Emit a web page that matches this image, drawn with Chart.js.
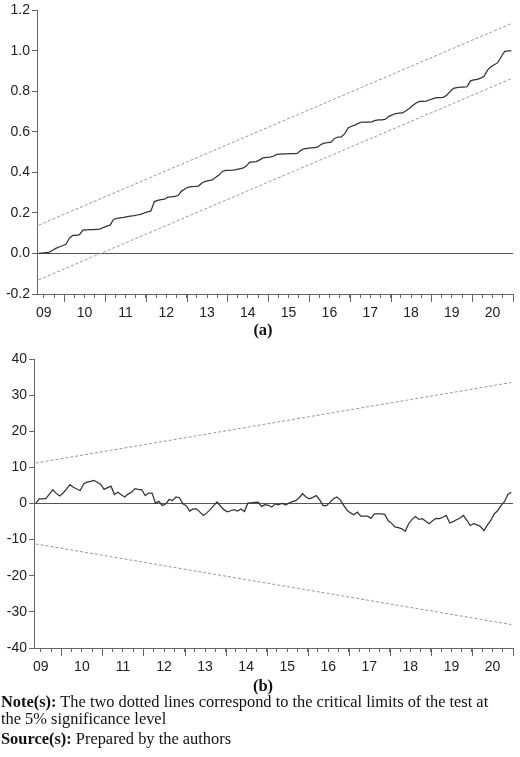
<!DOCTYPE html>
<html>
<head>
<meta charset="utf-8">
<script src="https://cdn.jsdelivr.net/npm/chart.js@4"></script>
<style>
  body { margin: 0; background: #fff; width: 520px; height: 757px; position: relative; overflow: hidden; font-family: "Liberation Serif", "Times New Roman", serif; color: #111; }
  #boxA { position: absolute; left: 0; top: 0; width: 520px; height: 322px; }
  #boxB { position: absolute; left: 0; top: 340px; width: 520px; height: 336px; }
  .cap { position: absolute; left: 0; width: 526px; text-align: center; font-weight: bold; font-size: 16.5px; line-height: 18px; }
  #note { position: absolute; left: 1px; top: 693px; width: 519px; font-size: 16.4px; line-height: 17px; }
  #note p { margin: 0 0 3px 0; }
</style>
</head>
<body>
<div id="boxA"><canvas id="cusumSqChart"></canvas></div>
<div class="cap" style="top:321px">(a)</div>
<div id="boxB"><canvas id="cusumChart"></canvas></div>
<div class="cap" style="top:677px">(b)</div>
<div id="note">
  <p><b>Note(s):</b> The two dotted lines correspond to the critical limits of the test at<br>the 5% significance level</p>
  <p><b>Source(s):</b> Prepared by the authors</p>
</div>

<script>
//------------------------------------- Data -------------------------------------
const startYear = 2009;
const startMonth = 5; // first recursive residual: May 2009, monthly to Dec 2020
const yearLabels = ['09', '10', '11', '12', '13', '14', '15', '16', '17', '18', '19', '20'];

// (a) CUSUM of squares
const cusumSq = [
  0.000, 0.002, 0.004, 0.005, 0.015, 0.025, 0.032, 0.038,
  0.045, 0.075, 0.089, 0.090, 0.093, 0.115, 0.117, 0.118, 0.118, 0.119, 0.120, 0.128,
  0.135, 0.140, 0.168, 0.173, 0.176, 0.178, 0.182, 0.185, 0.187, 0.190, 0.193, 0.200,
  0.205, 0.210, 0.255, 0.262, 0.266, 0.268, 0.278, 0.280, 0.282, 0.286, 0.308, 0.318,
  0.328, 0.330, 0.331, 0.333, 0.348, 0.356, 0.360, 0.363, 0.375, 0.387, 0.405, 0.410,
  0.410, 0.411, 0.414, 0.418, 0.421, 0.430, 0.450, 0.452, 0.454, 0.462, 0.472, 0.474,
  0.476, 0.480, 0.489, 0.491, 0.492, 0.492, 0.493, 0.493, 0.494, 0.508, 0.517, 0.519,
  0.521, 0.523, 0.525, 0.538, 0.545, 0.547, 0.550, 0.568, 0.575, 0.576, 0.590, 0.620,
  0.628, 0.634, 0.642, 0.649, 0.649, 0.649, 0.650, 0.657, 0.659, 0.660, 0.663, 0.677,
  0.684, 0.691, 0.693, 0.694, 0.705, 0.716, 0.730, 0.743, 0.751, 0.751, 0.752, 0.759,
  0.764, 0.769, 0.770, 0.771, 0.781, 0.800, 0.815, 0.819, 0.821, 0.821, 0.823, 0.852,
  0.857, 0.860, 0.866, 0.875, 0.905, 0.922, 0.932, 0.942, 0.970, 0.997, 1.000, 1.000
];
const cusumSqUpper = [0.14, 1.135];
const cusumSqLower = [-0.13, 0.863];

// (b) CUSUM
const cusum = [
  0.0, 1.3, 1.3, 1.4, 2.6, 3.8, 2.8, 2.1,
  2.9, 4.0, 5.2, 4.5, 4.0, 3.6, 5.4, 5.9, 6.1, 6.4, 5.9, 5.3,
  3.9, 4.4, 4.8, 2.5, 3.1, 2.4, 1.8, 2.6, 3.1, 4.1, 3.9, 3.8,
  2.2, 2.9, 2.9, 0.1, 0.6, -0.6, -0.1, 1.1, 0.8, 1.8, 1.6, -0.1,
  -0.6, -2.1, -1.5, -1.5, -2.4, -3.3, -2.6, -1.7, -0.6, 0.4, -0.7, -1.7,
  -2.3, -2.0, -1.7, -2.1, -1.5, -2.2, 0.1, 0.2, 0.3, 0.4, -0.8, -0.3,
  -0.5, -1.0, -0.1, -0.4, 0.1, -0.4, 0.1, 0.5, 0.8, 1.6, 2.7, 1.8,
  1.3, 1.7, 2.2, 1.0, -0.6, -0.6, 0.3, 1.3, 1.8, 1.0, -0.5, -1.9,
  -2.6, -3.1, -2.4, -3.5, -3.5, -3.5, -4.1, -2.9, -2.9, -2.9, -3.0, -4.7,
  -5.5, -6.5, -6.7, -7.0, -7.7, -5.6, -4.4, -3.6, -4.4, -4.2, -4.9, -5.6,
  -4.8, -4.1, -4.2, -3.8, -3.3, -5.4, -5.0, -4.5, -4.0, -3.3, -4.6, -6.1,
  -5.6, -5.9, -6.4, -7.5, -6.0, -4.7, -2.9, -2.0, -0.6, 0.5, 2.5, 3.1
];
const cusumUpper = [11.2, 33.5];
const cusumLower = [-11.2, -33.5];

//------------------------------------- Helpers -------------------------------------
// each monthly observation sits in the middle of its month
const dates = cusum.map((_, i) => startYear + (startMonth - 1 + i + 0.5) / 12);
const xMin = startYear + (startMonth - 1) / 12;
const xMax = startYear + yearLabels.length;

function toPoints(values) {
  return values.map((v, i) => ({ x: dates[i], y: v }));
}

function boundPoints(pair) {
  return [{ x: dates[0], y: pair[0] }, { x: dates[dates.length - 1], y: pair[1] }];
}

const axisColor = '#666';
const tickFont = { family: '"Liberation Sans", Arial, sans-serif', size: 14 };

// long tick marks at the start of each year (Chart.js draws the short quarterly ones)
const yearTicks = {
  id: 'yearTicks',
  afterDraw(chart) {
    const xs = chart.scales.x;
    const ctx = chart.ctx;
    ctx.save();
    ctx.strokeStyle = axisColor;
    ctx.lineWidth = 1;
    for (let yr = startYear + 1; yr <= xMax; yr++) {
      const px = Math.round(xs.getPixelForValue(yr)) + 0.5;
      ctx.beginPath();
      ctx.moveTo(px, xs.top);
      ctx.lineTo(px, xs.top + 8);
      ctx.stroke();
    }
    ctx.restore();
  }
};

function makeChart(canvasId, series, upper, lower, yOpts, axisWidth, padTop) {
  const ctx = document.getElementById(canvasId).getContext('2d');
  return new Chart(ctx, {
    type: 'line',
    data: {
      datasets: [
        { data: toPoints(series), borderColor: '#333', borderWidth: 1.25, pointRadius: 0, tension: 0 },
        { data: boundPoints(upper), borderColor: '#999', borderWidth: 1, borderDash: [3, 2], pointRadius: 0 },
        { data: boundPoints(lower), borderColor: '#999', borderWidth: 1, borderDash: [3, 2], pointRadius: 0 }
      ]
    },
    options: {
      responsive: true,
      maintainAspectRatio: false,
      animation: false,
      layout: { padding: { top: padTop, right: 2, left: 0, bottom: 0 } },
      plugins: { legend: { display: false }, tooltip: { enabled: false } },
      scales: {
        x: {
          type: 'linear',
          min: xMin,
          max: xMax,
          afterBuildTicks: scale => {
            const ticks = [];
            for (let q = Math.ceil(xMin * 4) / 4; q <= xMax + 1e-9; q += 0.25) ticks.push({ value: q });
            scale.ticks = ticks;
          },
          afterFit: scale => { scale.height = 28; },
          ticks: {
            autoSkip: false,
            maxRotation: 0,
            padding: 7,
            color: '#222',
            font: tickFont,
            callback: v => {
              const yr = Math.floor(v + 1e-9);
              return Math.abs(v - yr - 0.5) < 1e-6 ? yearLabels[yr - startYear] : '';
            }
          },
          grid: { drawOnChartArea: false, tickLength: 4, tickColor: axisColor },
          border: { color: axisColor, width: 1 }
        },
        y: Object.assign({
          afterFit: scale => { scale.width = axisWidth; },
          grid: {
            drawOnChartArea: true,
            color: c => (c.tick && Math.abs(c.tick.value) < 1e-9 ? '#555' : 'rgba(0,0,0,0)'),
            lineWidth: 1,
            tickLength: 5,
            tickColor: axisColor
          },
          border: { color: axisColor, width: 1 }
        }, yOpts)
      }
    },
    plugins: [yearTicks]
  });
}

//------------------------------------- Charts -------------------------------------
makeChart('cusumSqChart', cusumSq, cusumSqUpper, cusumSqLower, {
  min: -0.2,
  max: 1.2,
  ticks: {
    stepSize: 0.2, padding: 2, color: '#222', font: tickFont,
    callback: v => (Math.abs(v) < 1e-9 ? 0 : v).toFixed(1)
  }
}, 37, 7);

makeChart('cusumChart', cusum, cusumUpper, cusumLower, {
  min: -40,
  max: 40,
  ticks: { stepSize: 10, padding: 2, color: '#222', font: tickFont }
}, 34, 19);
</script>
</body>
</html>
